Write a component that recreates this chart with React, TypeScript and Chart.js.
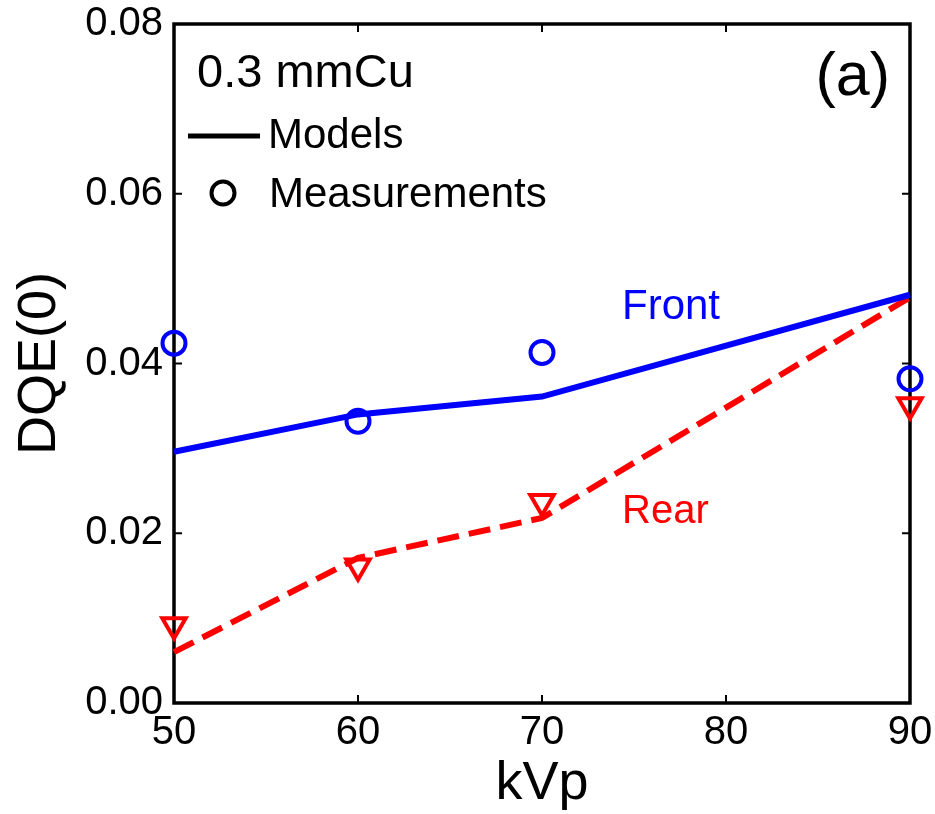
import React, { useEffect, useRef } from "react";
import { Chart, registerables } from "chart.js";

Chart.register(...registerables);

const kvp = [50, 60, 70, 90];
const frontModel = [0.0296, 0.034, 0.0361, 0.0481];
const rearModel = [0.006, 0.0171, 0.0218, 0.0478];
const frontMeas = [0.0424, 0.0332, 0.0413, 0.0382];
const rearMeas = [0.0092, 0.0161, 0.0237, 0.0351];

const xTicks = [50, 60, 70, 80, 90];
const yTicks = [0, 0.02, 0.04, 0.06, 0.08];

const FONT = "'Liberation Sans', Arial, Helvetica, sans-serif";

const toPts = (ys: number[]) => kvp.map((x, i) => ({ x, y: ys[i] }));

const framePlugin = {
  id: "frame",
  beforeDatasetsDraw(chart: any) {
    const { ctx, chartArea: a, scales } = chart;
    ctx.save();
    ctx.strokeStyle = "#000";
    ctx.lineWidth = 2;
    const tl = 8;
    for (const v of xTicks) {
      const px = scales.x.getPixelForValue(v);
      ctx.beginPath();
      ctx.moveTo(px, a.bottom);
      ctx.lineTo(px, a.bottom - tl);
      ctx.moveTo(px, a.top);
      ctx.lineTo(px, a.top + tl);
      ctx.stroke();
    }
    for (const v of yTicks) {
      const py = scales.y.getPixelForValue(v);
      ctx.beginPath();
      ctx.moveTo(a.left, py);
      ctx.lineTo(a.left + tl, py);
      ctx.moveTo(a.right, py);
      ctx.lineTo(a.right - tl, py);
      ctx.stroke();
    }
    ctx.lineWidth = 3.5;
    ctx.strokeRect(a.left, a.top, a.right - a.left, a.bottom - a.top);
    ctx.restore();
  },
  afterDraw(chart: any) {
    const { ctx, chartArea: a } = chart;
    ctx.save();
    ctx.textAlign = "left";
    ctx.textBaseline = "alphabetic";
    ctx.fillStyle = "#000";
    ctx.font = `47px ${FONT}`;
    ctx.fillText("0.3 mmCu", a.left + 23, 87);
    ctx.textAlign = "right";
    ctx.font = `61px ${FONT}`;
    ctx.fillText("(a)", a.right - 20, 95);
    ctx.textAlign = "left";
    ctx.font = `42px ${FONT}`;
    ctx.fillText("Models", a.left + 94, 148);
    ctx.fillText("Measurements", a.left + 95, 207);
    ctx.strokeStyle = "#000";
    ctx.lineWidth = 5;
    ctx.beginPath();
    ctx.moveTo(a.left + 14, 136);
    ctx.lineTo(a.left + 86, 136);
    ctx.stroke();
    ctx.lineWidth = 4;
    ctx.beginPath();
    ctx.arc(a.left + 49, 193, 11.5, 0, Math.PI * 2);
    ctx.stroke();
    ctx.font = `42px ${FONT}`;
    ctx.fillStyle = "#0000ff";
    ctx.fillText("Front", a.left + 448, 319);
    ctx.font = `40px ${FONT}`;
    ctx.fillStyle = "#ff0000";
    ctx.fillText("Rear", a.left + 448, 523);
    ctx.restore();
  },
};

export default function App() {
  const ref = useRef<HTMLCanvasElement>(null);
  useEffect(() => {
    document.body.style.margin = "0";
    const chart = new Chart(ref.current!, {
      type: "scatter",
      data: {
        datasets: [
          {
            data: toPts(frontModel),
            showLine: true,
            borderColor: "#0000ff",
            borderWidth: 6,
            pointRadius: 0,
            tension: 0,
          },
          {
            data: toPts(rearModel),
            showLine: true,
            borderColor: "#ff0000",
            borderWidth: 6,
            borderDash: [22, 10],
            pointRadius: 0,
            tension: 0,
          },
          {
            data: toPts(frontMeas),
            showLine: false,
            pointStyle: "circle",
            pointRadius: 11.5,
            pointBorderWidth: 4,
            pointBorderColor: "#0000ff",
            pointBackgroundColor: "rgba(0,0,0,0)",
          },
          {
            data: toPts(rearMeas),
            showLine: false,
            pointStyle: "triangle",
            pointRotation: 180,
            pointRadius: 13.5,
            pointBorderWidth: 4,
            pointBorderColor: "#ff0000",
            pointBackgroundColor: "rgba(0,0,0,0)",
          },
        ],
      },
      options: {
        animation: false,
        responsive: false,
        devicePixelRatio: 1,
        clip: false as any,
        layout: { padding: { left: 0, top: 24, right: 25, bottom: 0 } },
        plugins: { legend: { display: false }, tooltip: { enabled: false } },
        elements: { line: { borderCapStyle: "butt" } },
        scales: {
          x: {
            type: "linear",
            min: 50,
            max: 90,
            afterBuildTicks: (s: any) => {
              s.ticks = xTicks.map((v) => ({ value: v }));
            },
            afterFit: (s: any) => {
              s.height = 111;
              s.paddingLeft = 0;
              s.paddingRight = 0;
            },
            grid: { display: false, drawTicks: false },
            border: { display: false },
            ticks: {
              padding: 6,
              color: "#000",
              font: { family: FONT, size: 40, lineHeight: 1.2 },
              maxRotation: 0,
              callback: (v: any) => String(v),
            },
            title: {
              display: true,
              text: "kVp",
              color: "#000",
              font: { family: FONT, size: 54, lineHeight: 1 },
              padding: { top: 0, bottom: 3 },
            },
          },
          y: {
            type: "linear",
            min: 0,
            max: 0.08,
            afterBuildTicks: (s: any) => {
              s.ticks = yTicks.map((v) => ({ value: v }));
            },
            afterFit: (s: any) => {
              s.width = 174;
              s.paddingTop = 0;
              s.paddingBottom = 0;
            },
            grid: { display: false, drawTicks: false },
            border: { display: false },
            ticks: {
              padding: 11,
              color: "#000",
              font: { family: FONT, size: 40, lineHeight: 1.2 },
              callback: (v: any) => Number(v).toFixed(2),
            },
            title: {
              display: true,
              text: "DQE(0)",
              color: "#000",
              font: { family: FONT, size: 54, lineHeight: 1 },
              padding: { top: 13, bottom: 0 },
            },
          },
        },
      },
      plugins: [framePlugin],
    });
    return () => chart.destroy();
  }, []);
  return (
    <div style={{ position: "absolute", left: 0, top: 0, width: 935, height: 814, background: "#fff" }}>
      <canvas ref={ref} width={935} height={814} />
    </div>
  );
}
